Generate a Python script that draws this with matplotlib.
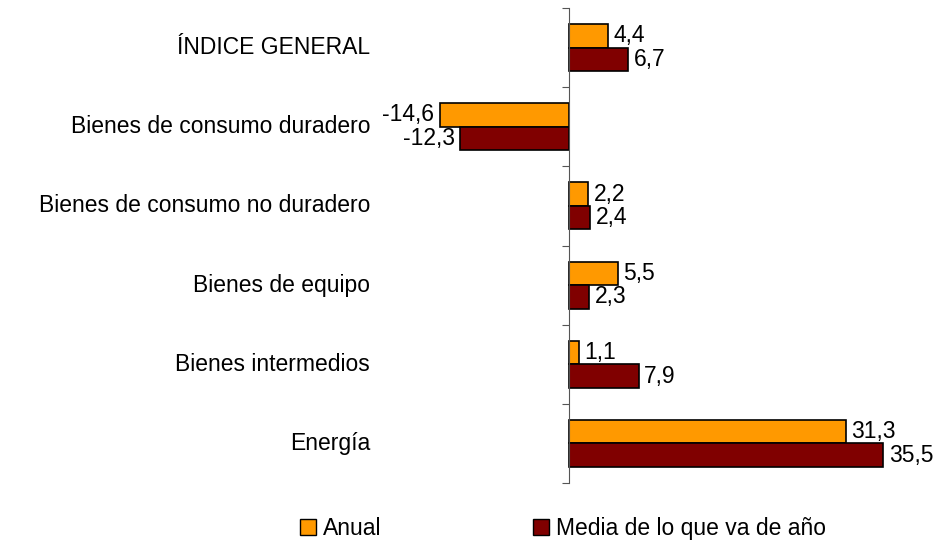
import matplotlib
matplotlib.use('Agg')
import matplotlib.pyplot as plt
from matplotlib.patches import Patch
import numpy as np

plt.rcParams['font.family'] = ['Liberation Sans', 'DejaVu Sans']

categorias = ['ÍNDICE GENERAL', 'Bienes de consumo duradero',
              'Bienes de consumo no duradero', 'Bienes de equipo',
              'Bienes intermedios', 'Energía']
anual = [4.4, -14.6, 2.2, 5.5, 1.1, 31.3]
media = [6.7, -12.3, 2.4, 2.3, 7.9, 35.5]
series = ['Anual', 'Media de lo que va de año']

c_anual = '#FF9900'
c_media = '#800000'
fs = 16.5

fig = plt.figure(figsize=(9.41, 5.44), dpi=100)
ax = fig.add_axes([0.4165, 0.1121, 0.5363, 0.8732])

y = np.arange(len(categorias))
h = 0.297
ax.barh(y - h / 2, anual, height=h, color=c_anual, edgecolor='black', linewidth=1.2)
ax.barh(y + h / 2, media, height=h, color=c_media, edgecolor='black', linewidth=1.2)

ax.set_xlim(-20, 37)
ax.set_ylim(5.5, -0.5)

for s in ['top', 'right', 'bottom']:
    ax.spines[s].set_visible(False)
ax.spines['left'].set_position(('data', 0))
ax.spines['left'].set_color('#555555')
ax.set_xticks([])
ax.set_yticks(np.arange(-0.5, len(categorias), 1))
ax.set_yticklabels([])
ax.tick_params(axis='y', direction='out', length=5, color='#555555')

# etiquetas de categoria
for i, c in enumerate(categorias):
    ax.text(-0.0434, i, c, transform=ax.get_yaxis_transform(),
            ha='right', va='center', fontsize=fs)

def etiq(v):
    return ('%.1f' % v).replace('.', ',')

for i in range(len(categorias)):
    for v, yy in [(anual[i], y[i] - h / 2), (media[i], y[i] + h / 2)]:
        if v >= 0:
            ax.text(v + 0.6, yy, etiq(v), ha='left', va='center', fontsize=fs)
        else:
            ax.text(v - 0.6, yy, etiq(v), ha='right', va='center', fontsize=fs)

handles = [Patch(facecolor=c_anual, edgecolor='black'),
           Patch(facecolor=c_media, edgecolor='black')]
fig.legend(handles, series, loc='center', bbox_to_anchor=(0.598, 0.028),
           ncol=2, frameon=False, fontsize=fs, handlelength=0.7,
           handleheight=0.7, handletextpad=0.3, columnspacing=6.6)

fig.savefig('out.png', dpi=100)
